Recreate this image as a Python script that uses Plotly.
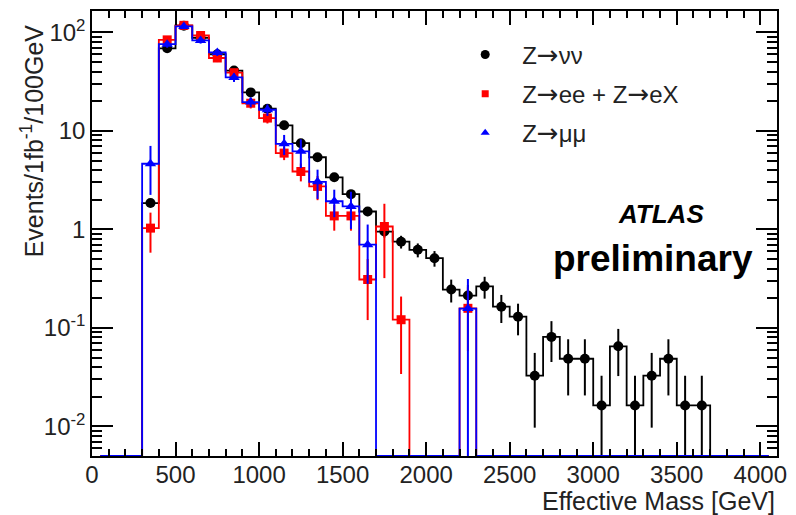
import math
import plotly.graph_objects as go

# ---------------- data ----------------
bin_width = 100
bin_centers = [350, 450, 550, 650, 750, 850, 950, 1050, 1150, 1250, 1350, 1450, 1550, 1650,
               1750, 1850, 1950, 2050, 2150, 2250, 2350, 2450, 2550, 2650, 2750, 2850, 2950,
               3050, 3150, 3250, 3350, 3450, 3550, 3650]

znunu = [1.85, 69, 117, 88, 60, 41, 24.6, 16.8, 11.4, 7.5, 5.4, 3.38, 2.28, 1.52,
         0.95, 0.75, 0.62, 0.51, 0.245, 0.213, 0.264, 0.164, 0.13, 0.0327, 0.081, 0.0486, 0.0486,
         0.0163, 0.065, 0.0163, 0.0327, 0.0486, 0.0163, 0.0163]
znunu_err = [0.17, 1.06, 1.38, 1.2, 0.99, 0.82, 0.63, 0.52, 0.43, 0.35, 0.30, 0.235, 0.193, 0.156,
             0.124, 0.111, 0.10, 0.092, 0.064, 0.059, 0.066, 0.052, 0.046, 0.023, 0.036, 0.028, 0.028,
             0.0163, 0.0326, 0.0163, 0.023, 0.028, 0.0163, 0.0163]

zee = [1.03, 84, 118, 93, 55, 39, 19.1, 13.5, 5.95, 3.87, 2.73, 1.37, 1.37, 0.31,
       1.07, 0.121, 0, 0, 0, 0.158, 0, 0, 0, 0, 0, 0, 0,
       0, 0, 0, 0, 0, 0, 0]
zee_err = [0.45, 6, 8, 7, 5, 3.5, 2.2, 1.6, 0.9, 0.8, 0.75, 0.4, 0.4, 0.19,
           0.75, 0.087, 0, 0, 0, 0.1, 0, 0, 0, 0, 0, 0, 0,
           0, 0, 0, 0, 0, 0, 0]

zmumu = [4.64, 76, 115, 83, 62.6, 34.9, 19.6, 16.4, 7.4, 6.2, 3.04, 1.93, 1.71, 0.70,
         0, 0, 0, 0, 0, 0.157, 0, 0, 0, 0, 0, 0, 0,
         0, 0, 0, 0, 0, 0, 0]
zmumu_err = [2.4, 6, 7, 6, 5, 3.5, 2.2, 2.2, 1.7, 2.0, 1.0, 0.6, 0.7, 0.42,
             0, 0, 0, 0, 0, 0.157, 0, 0, 0, 0, 0, 0, 0,
             0, 0, 0, 0, 0, 0, 0]

x_min, x_max = 0, 4100
y_min, y_max = 0.005, 165

x_tick_vals = [0, 500, 1000, 1500, 2000, 2500, 3000, 3500, 4000]
y_tick_vals = [0.01, 0.1, 1, 10, 100]
y_tick_text = ["10<sup>-2</sup>", "10<sup>-1</sup>", "1", "10", "10<sup>2</sup>"]

ARROW = '<span style="font-family:DejaVu Sans;font-size:26px">→</span>'
series = [
    ("Z" + ARROW + "νν", znunu, znunu_err, "black", "circle", 10, 9),
    ("Z" + ARROW + "ee + Z" + ARROW + "eX", zee, zee_err, "#ff0000", "square", 9, 7),
    ("Z" + ARROW + "μμ", zmumu, zmumu_err, "#0000ff", "triangle-up", 10, 8),
]

FONT = "Liberation Sans, Arial, Helvetica, sans-serif"

# full bin list across the axis (empty bins drawn on the floor)
all_centers = [x_min + bin_width / 2 + i * bin_width for i in range(int((x_max - x_min) / bin_width))]

fig = go.Figure()

for name, vals, errs, color, symbol, msize, lsize in series:
    lookup = dict(zip(bin_centers, vals))
    step_y = []
    for c in all_centers:
        v = lookup.get(c, 0)
        step_y.append(v if v > 0 else y_min)
    # histogram outline
    fig.add_trace(go.Scatter(
        x=all_centers, y=step_y, mode="lines", line=dict(color=color, width=1.8, shape="hvh"),
        showlegend=False, hoverinfo="skip"))
    # points with error bars
    px = [c for c, v in zip(bin_centers, vals) if v > 0]
    py = [v for v in vals if v > 0]
    pe = [e for v, e in zip(vals, errs) if v > 0]
    fig.add_trace(go.Scatter(
        x=px, y=py, mode="markers",
        marker=dict(color=color, symbol=symbol, size=msize, line=dict(width=0)),
        error_y=dict(type="data", array=pe, color=color, thickness=2, width=0),
        showlegend=False))

# legend-only entries
for i, (name, vals, errs, color, symbol, msize, lsize) in enumerate(series):
    fig.add_trace(go.Scatter(
        x=[None], y=[None], mode="markers", name=name, legendgroup="g%d" % i,
        marker=dict(color=color, symbol=symbol, size=lsize, line=dict(width=0))))

minor_y = []
for k in range(-3, 3):
    for m in range(2, 10):
        minor_y.append(m * 10 ** k)

fig.update_layout(
    width=796, height=515,
    margin=dict(l=92, r=14, t=9, b=59),
    paper_bgcolor="white", plot_bgcolor="white",
    font=dict(family=FONT, color="black", size=24),
    legend=dict(x=0.52, y=0.952, xanchor="left", yanchor="top",
                bgcolor="rgba(0,0,0,0)", font=dict(size=24, family=FONT, color="#222"),
                itemwidth=64, tracegroupgap=5),
    xaxis=dict(
        range=[x_min, x_max], showgrid=False, zeroline=False,
        showline=True, linecolor="black", linewidth=1.5, mirror="allticks",
        ticks="inside", ticklen=14, tickwidth=1.5, tickcolor="black",
        tickvals=x_tick_vals, ticktext=[str(v) for v in x_tick_vals],
        tickfont=dict(size=24, family=FONT, color="#222"),
        ticklabelstandoff=-4,
        minor=dict(ticks="inside", ticklen=7, tickwidth=1.5, tickcolor="black", dtick=100, showgrid=False),
    ),
    yaxis=dict(
        type="log", range=[math.log10(y_min), math.log10(y_max)],
        showgrid=False, zeroline=False,
        showline=True, linecolor="black", linewidth=1.5, mirror="allticks",
        ticks="inside", ticklen=21, tickwidth=1.5, tickcolor="black",
        tickvals=y_tick_vals, ticktext=y_tick_text,
        tickfont=dict(size=24, family=FONT, color="#222"),
        minor=dict(ticks="inside", ticklen=10, tickwidth=1.5, tickcolor="black",
                   tickvals=minor_y, showgrid=False),
    ),
    annotations=[
        dict(text="Events/1fb<sup>-1</sup>/100GeV", xref="paper", yref="paper",
             x=-0.088, y=0.975, xanchor="center", yanchor="top", textangle=-90,
             showarrow=False, font=dict(size=25, family=FONT, color="#222")),
        dict(text="Effective Mass [GeV]", xref="paper", yref="paper",
             x=1.0, y=-0.1007, xanchor="right", yanchor="middle",
             showarrow=False, font=dict(size=25, family=FONT, color="#222")),
        dict(text="<b><i>ATLAS</i></b>", xref="paper", yref="paper",
             x=0.830, y=0.5436, xanchor="center", yanchor="middle",
             showarrow=False, font=dict(size=26, family=FONT, color="black")),
        dict(text="<b>preliminary</b>", xref="paper", yref="paper",
             x=0.819, y=0.443, xanchor="center", yanchor="middle",
             showarrow=False, font=dict(size=37, family=FONT, color="black")),
    ],
)

fig.write_html("out.html")
